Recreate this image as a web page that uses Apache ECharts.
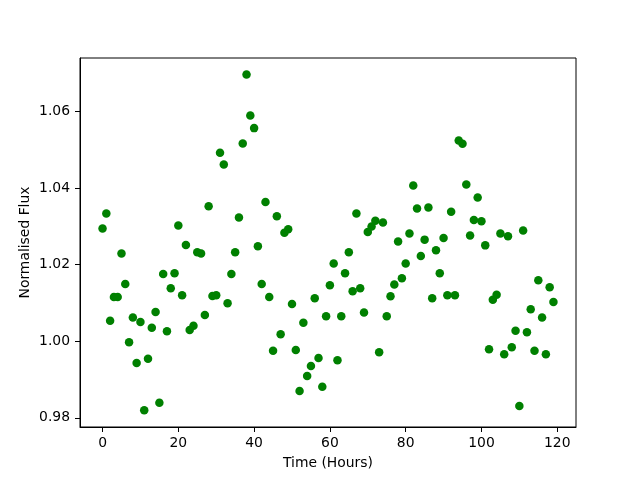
<!DOCTYPE html>
<html>
<head>
<meta charset="utf-8">
<script src="https://cdn.jsdelivr.net/npm/echarts@6/dist/echarts.min.js"></script>
<style>html,body{margin:0;padding:0;background:#fff}#c{width:640px;height:480px}</style>
</head>
<body>
<div id="c"></div>
<script>
const timeHours = [0,1,2,3,4,5,6,7,8,9,10,11,12,13,14,15,16,17,18,19,20,21,22,23,24,25,26,27,28,29,30,31,32,33,34,35,36,37,38,39,40,41,42,43,44,45,46,47,48,49,50,51,52,53,54,55,56,57,58,59,60,61,62,63,64,65,66,67,68,69,70,71,72,73,74,75,76,77,78,79,80,81,82,83,84,85,86,87,88,89,90,91,92,93,94,95,96,97,98,99,100,101,102,103,104,105,106,107,108,109,110,111,112,113,114,115,116,117,118,119];
const normalisedFlux = [
1.0294,1.0333,1.0053,1.0115,1.0115,1.0229,1.0149,0.9997,1.0062,0.9943,
1.0050,0.9820,0.9954,1.0035,1.0076,0.9839,1.0175,1.0026,1.0138,1.0177,
1.0302,1.0120,1.0251,1.0029,1.0040,1.0232,1.0229,1.0068,1.0352,1.0118,
1.0120,1.0492,1.0461,1.0099,1.0175,1.0232,1.0323,1.0516,1.0696,1.0589,
1.0556,1.0248,1.0149,1.0363,1.0115,0.9975,1.0326,1.0018,1.0283,1.0292,
1.0097,0.9977,0.9870,1.0048,0.9909,0.9935,1.0112,0.9956,0.9881,1.0065,
1.0146,1.0203,0.9950,1.0065,1.0177,1.0232,1.0130,1.0333,1.0138,1.0075,
1.0285,1.0299,1.0314,0.9971,1.0310,1.0065,1.0117,1.0148,1.0260,1.0164,
1.0203,1.0281,1.0406,1.0346,1.0222,1.0265,1.0349,1.0112,1.0237,1.0177,
1.0269,1.0120,1.0338,1.0120,1.0524,1.0515,1.0409,1.0276,1.0316,1.0375,
1.0313,1.0250,0.9979,1.0108,1.0121,1.0281,0.9966,1.0274,0.9984,1.0027,
0.9831,1.0289,1.0023,1.0083,0.9975,1.0159,1.0062,0.9966,1.0141,1.0102];
const xTicks = [0,20,40,60,80,100,120];
const yTicks = [0.98,1.00,1.02,1.04,1.06];
const xLabel = 'Time (Hours)';
const yLabel = 'Normalised Flux';

const points = timeHours.map((t, i) => [t, normalisedFlux[i]]);
const font = 'DejaVu Sans';
const chart = echarts.init(document.getElementById('c'), null, {renderer: 'canvas'});
chart.setOption({
  animation: false,
  backgroundColor: '#fff',
  grid: {left: 80, right: 64, top: 58, bottom: 53, show: true, borderColor: '#000', borderWidth: 1, backgroundColor: 'transparent'},
  xAxis: {
    type: 'value', min: -5.95, max: 124.95,
    name: xLabel, nameLocation: 'middle', nameGap: 29, nameMoveOverlap: false,
    nameTextStyle: {fontFamily: font, fontSize: 13.9, color: '#000'},
    axisLine: {show: true, onZero: false, lineStyle: {color: '#000', width: 1}},
    axisTick: {show: true, length: 5, customValues: xTicks, lineStyle: {color: '#000', width: 1}},
    axisLabel: {customValues: xTicks, margin: 9, fontFamily: font, fontSize: 13.9, color: '#000'},
    splitLine: {show: false}
  },
  yAxis: {
    type: 'value', min: 0.9776, max: 1.0739,
    name: yLabel, nameLocation: 'middle', nameGap: 48, nameRotate: 90, nameMoveOverlap: false,
    nameTextStyle: {fontFamily: font, fontSize: 13.9, color: '#000'},
    axisLine: {show: true, onZero: false, lineStyle: {color: '#000', width: 1}},
    axisTick: {show: true, length: 5, customValues: yTicks, lineStyle: {color: '#000', width: 1}},
    axisLabel: {customValues: yTicks, margin: 10, fontFamily: font, fontSize: 13.9, color: '#000',
      formatter: v => v.toFixed(2)},
    splitLine: {show: false}
  },
  series: [{
    type: 'scatter', data: points, symbol: 'circle', symbolSize: 8.5,
    itemStyle: {color: '#008000', opacity: 1}
  }]
});
</script>
</body>
</html>
